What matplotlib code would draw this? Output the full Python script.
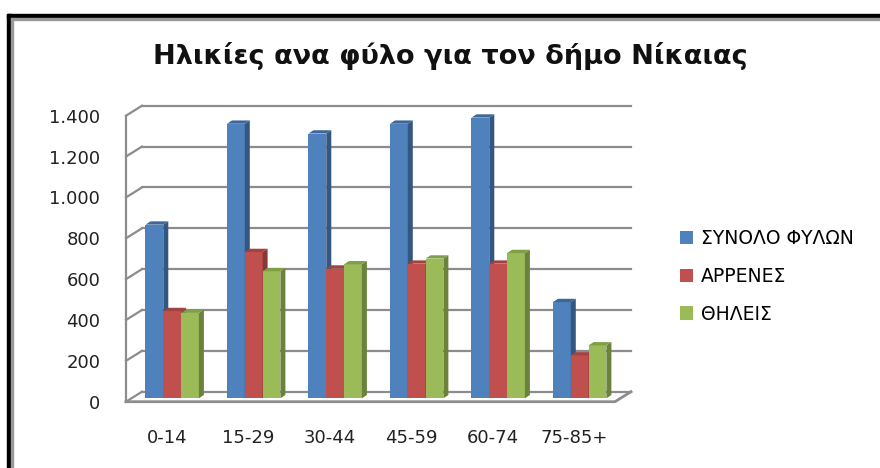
import matplotlib
matplotlib.use('Agg')
import matplotlib.pyplot as plt
from matplotlib.patches import Polygon, Rectangle

# data
categories = ['0-14', '15-29', '30-44', '45-59', '60-74', '75-85+']
total = [850, 1344, 1296, 1344, 1374, 471]
males = [427, 716, 635, 659, 659, 210]
females = [418, 622, 656, 684, 711, 259]
series_names = ['ΣΥΝΟΛΟ ΦΥΛΩΝ', 'ΑΡΡΕΝΕΣ', 'ΘΗΛΕΙΣ']
yticks = [0, 200, 400, 600, 800, 1000, 1200, 1400]

front = ['#4F81BD', '#C0504D', '#9BBB59']
side = ['#34567F', '#8A3835', '#6B813C']
top = ['#3E6699', '#A34341', '#80A046']

W, H = 880, 468


def fx(px):
  return px / W


def fy(py):
  return (H - py) / H


def Frame(fig):
  # thick black frame with a grey inner line, cut off at right and bottom
  fig.add_artist(Rectangle((fx(7), fy(18)), fx(W), 4 / H, color='black', transform=fig.transFigure))
  fig.add_artist(Rectangle((fx(7), 0), 4 / W, fy(14), color='black', transform=fig.transFigure))
  fig.add_artist(Rectangle((fx(11), fy(20)), fx(W), 2 / H, color='#999999', transform=fig.transFigure))
  fig.add_artist(Rectangle((fx(11), 0), 2 / W, fy(18), color='#999999', transform=fig.transFigure))


def main():
  fig = plt.figure(figsize=(8.8, 4.68), dpi=100)
  Frame(fig)

  # axes = front plane of the floor
  left, right, bottom, upper = 126, 615, 401.7, 115.7
  ax = fig.add_axes([fx(left), fy(bottom), fx(right - left), (bottom - upper) / H])
  ax.set_xlim(-0.5, len(categories) - 0.5)
  ax.set_ylim(0, 1400)
  for s in ax.spines.values():
    s.set_visible(False)

  ux = len(categories) / (right - left)   # data per pixel
  uy = 1400 / (bottom - upper)
  Dx, Dy = 16 * ux, 10 * uy              # depth of the chart box

  grid = '#8C8C8C'
  x0, x1 = -0.5, len(categories) - 0.5
  for v in yticks:
    ax.plot([x0 + Dx, x1 + Dx], [v + Dy, v + Dy], color=grid, lw=1.6, zorder=1, clip_on=False)
    ax.plot([x0, x0 + Dx], [v, v + Dy], color=grid, lw=1.6, zorder=1, clip_on=False)
  ax.plot([x0, x0], [0, 1400], color=grid, lw=1.6, zorder=1, clip_on=False)
  # floor
  ax.plot([x0, x1, x1 + Dx], [0, 0, Dy], color=grid, lw=2, zorder=1, clip_on=False)

  bw = 17.8 * ux
  f0 = 0.34
  dx, dy = 5 * ux, 3.3 * uy
  data = [total, males, females]
  for k, vals in enumerate(data):
    xs = [i + (k - 1) * bw + f0 * Dx for i in range(len(categories))]
    ax.bar(xs, vals, bw, bottom=f0 * Dy, color=front[k], zorder=3 + k,
           label=series_names[k], linewidth=0, clip_on=False)
    for x, v in zip(xs, vals):
      a, b = x - bw / 2, x + bw / 2
      y0, y1 = f0 * Dy, f0 * Dy + v
      ax.add_patch(Polygon([(b, y0), (b, y1), (b + dx, y1 + dy), (b + dx, y0 + dy)],
                           closed=True, color=side[k], lw=0, zorder=3.5 + k, clip_on=False))
      ax.add_patch(Polygon([(a, y1), (b, y1), (b + dx, y1 + dy), (a + dx, y1 + dy)],
                           closed=True, color=top[k], lw=0, zorder=3.5 + k, clip_on=False))

  ax.set_yticks(yticks)
  ax.set_yticklabels(['{:,}'.format(v).replace(',', '.') for v in yticks])
  ax.set_xticks(range(len(categories)))
  ax.set_xticklabels(categories)
  ax.tick_params(axis='y', length=0, pad=18.5, labelsize=13, labelcolor='#222222')
  ax.tick_params(axis='x', length=0, pad=20, labelsize=13, labelcolor='#222222')

  fig.text(fx(450), fy(56), 'Ηλικίες ανα φύλο για τον δήμο Νίκαιας', ha='center', va='center',
           fontsize=19.5, fontweight='bold', color='#111111')

  fig.legend(loc='upper left', bbox_to_anchor=(fx(680), fy(229)), frameon=False,
             fontsize=13.5, handlelength=0.7, handleheight=0.7, handletextpad=0.4,
             labelspacing=1.0, borderpad=0, borderaxespad=0)

  fig.savefig('out.png', dpi=100)


if __name__ == '__main__':
  main()
